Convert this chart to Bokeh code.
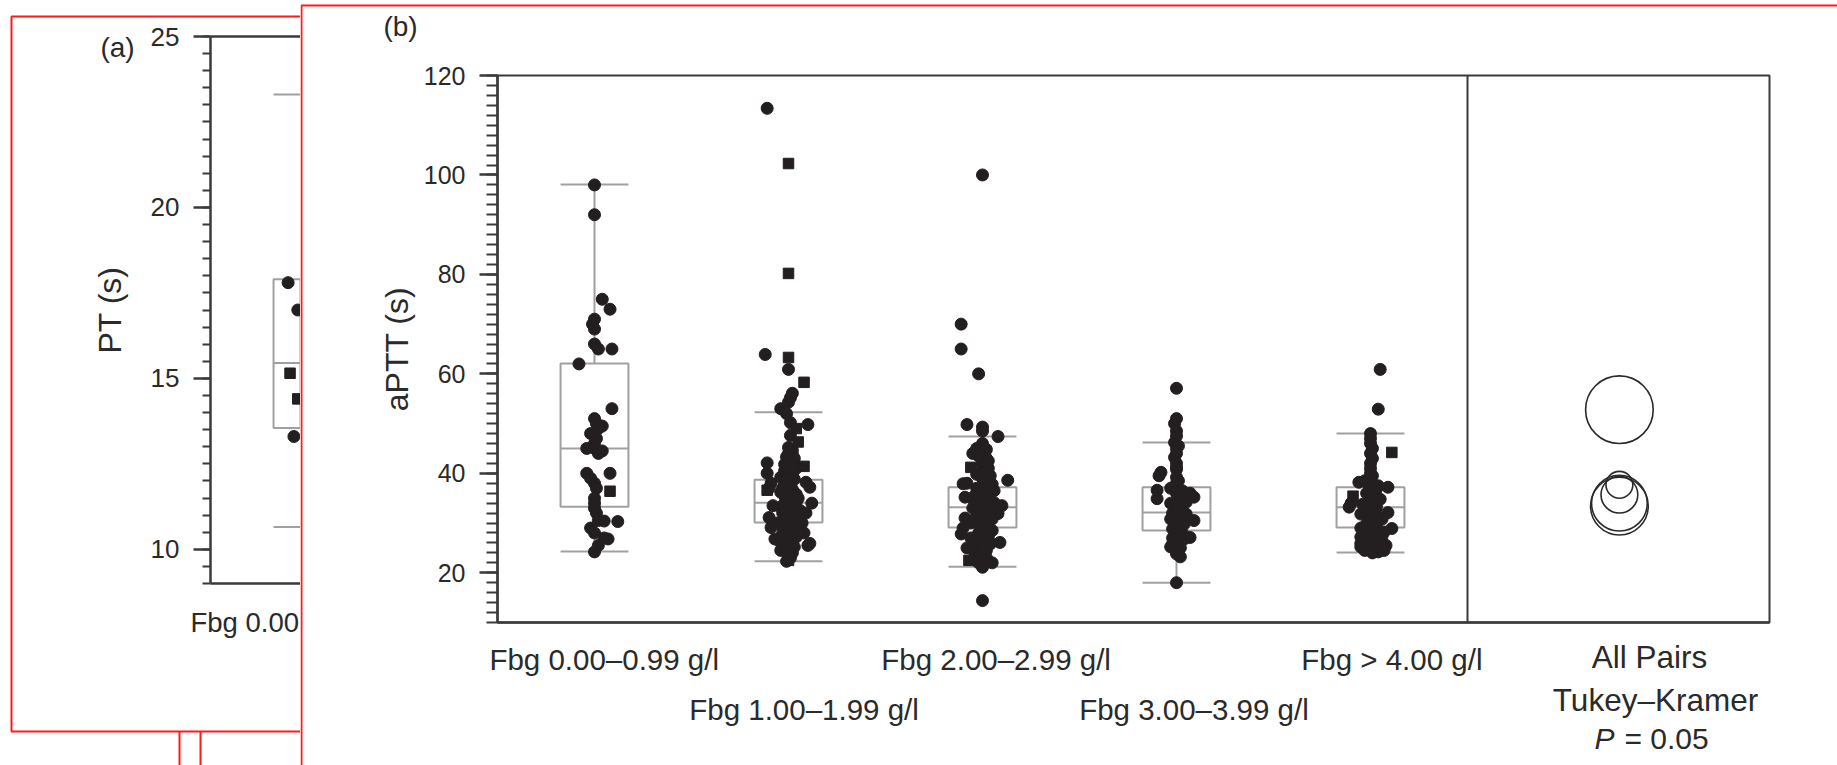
from bokeh.plotting import figure
from bokeh.layouts import row
from bokeh.models import FixedTicker, SingleIntervalTicker, LinearAxis, Range1d
from bokeh.embed import file_html
from bokeh.resources import INLINE
from bokeh.core.properties import value

FONT = "Liberation Sans"
INK = "#231f20"
AXIS = "#3a3a3a"
BOXC = "#a0a0a0"
RED = "#ff1a1a"
TXT = "#2a2a2a"

# ---------------- panel (a): PT ----------------
a_category_visible = "Fbg 0.00"          # the rest of the label is hidden behind panel (b)
a_whisker_low, a_q1, a_median, a_q3, a_whisker_high = 10.65, 13.55, 15.45, 17.9, 23.3
a_values = [17.8, 17.0, 15.15, 14.4, 13.3]
a_offsets = [-0.10, -0.05, -0.09, -0.05, -0.07]
a_markers = ["o", "o", "s", "s", "o"]

# ---------------- panel (b): aPTT ----------------
b_categories = ["Fbg 0.00–0.99 g/l", "Fbg 1.00–1.99 g/l", "Fbg 2.00–2.99 g/l",
                "Fbg 3.00–3.99 g/l", "Fbg > 4.00 g/l"]
b_whisker_low = [24.3, 22.3, 21.2, 18.0, 24.1]
b_q1 = [33.3, 30.1, 29.1, 28.5, 29.1]
b_median = [45.0, 34.1, 33.2, 32.1, 33.2]
b_q3 = [62.1, 38.7, 37.2, 37.2, 37.2]
b_whisker_high = [98.1, 52.3, 47.4, 46.2, 48.0]

g1_values = [98, 92, 75, 73, 71, 70, 69, 66, 65, 65, 62, 53, 51, 50, 49.5, 49, 48, 47, 46, 45,
             45, 44.5, 44, 40, 40, 39, 38, 37, 36.4, 35, 34, 33, 32, 30.5, 30.4, 30.3, 29, 28,
             27, 26.8, 25.5, 24.2]
g1_offsets = [0, 0, 0.04, 0.08, 0, -0.01, 0, 0, 0.02, 0.09, -0.08, 0.09, 0, 0.01, 0.04, 0.02,
              -0.02, 0.01, 0, -0.04, 0, 0.04, 0.02, 0.08, -0.04, -0.02, 0, 0.01, 0.08, 0, 0, 0,
              0.01, 0.02, 0.05, 0.12, -0.02, 0, 0.05, 0.07, 0.02, 0]
g1_markers = ["o"] * 28 + ["s"] + ["o"] * 13

g2_values = [113.4, 102.3, 80.2, 63.9, 63.3, 60.9, 58.3, 56.1, 55.2, 54.3, 53.0, 52.0, 50.2, 49.8,
             49.0, 47.6, 46.3, 45.2, 44.6, 43.8, 43.3, 42.5, 42.1, 41.5, 41.4, 41.0, 40.5, 40.0,
             40.0, 39.5, 39.2, 39.0, 38.5, 38.2, 38.0, 37.5, 37.2, 37.0, 36.8, 36.6, 36.5, 36.0,
             35.8, 35.5, 35.0, 34.8, 34.5, 34.0, 34.0, 33.8, 33.5, 33.0, 32.8, 32.5, 32.0, 31.8,
             31.5, 31.1, 31.0, 30.8, 30.5, 30.0, 30.0, 29.8, 29.5, 29.1, 29.0, 28.8, 28.5, 28.0,
             27.8, 27.5, 27.0, 26.5, 26.0, 25.9, 25.5, 25.0, 24.5, 24.0, 23.5, 23.0, 22.5, 22.3,
             44.0, 43.0, 41.8, 40.8, 39.8, 38.8, 37.8, 36.2, 35.2, 34.2, 33.2, 32.2, 31.3, 30.2,
             29.3, 28.2, 27.2, 26.2, 25.2, 24.2, 38.0, 37.0, 33.5, 32.0, 28.0, 26.8]
g2_offsets = [-0.11, 0, 0, -0.12, 0, 0, 0.08, 0.02, 0.01, 0, -0.04, -0.01, 0.01, 0.10,
              0.04, 0.01, 0.05, 0, 0.02, 0.02, -0.01, 0.01, -0.11, 0, 0.08, 0.04, -0.02, -0.11,
              0.02, 0.02, -0.04, 0, 0, 0.09, 0.01, 0, 0.11, -0.03, 0.02, -0.11, 0, 0.03,
              0.04, -0.02, 0.05, -0.01, 0, 0.12, -0.02, 0.02, 0.03, 0, -0.01, 0.06, -0.03, 0.03,
              0.01, -0.10, 0.04, -0.02, 0, 0.07, -0.06, 0.01, 0.02, -0.09, 0, 0.03, 0.05, -0.03,
              -0.01, 0.01, 0, -0.05, 0.02, 0.11, 0.10, 0, -0.04, 0.02, 0, 0.01, 0, -0.01,
              0, 0.03, -0.02, 0.01, -0.01, 0.03, -0.02, -0.04, 0.01, 0.04, -0.04, 0.01, 0.05, 0.02,
              -0.03, 0, 0.04, -0.02, 0.03, -0.01, -0.09, -0.10, -0.08, 0.09, 0.08, -0.07]
g2_markers = (["o", "s", "s", "o", "s", "o", "s", "o", "o", "o", "o", "o", "o", "o",
               "s", "o", "s", "o", "o", "o", "o", "o", "o", "o", "s", "o", "o", "o",
               "o", "o", "o", "s", "o", "o", "o", "o", "o", "o", "o", "s", "o", "o"]
              + ["o"] * 40 + ["s", "o"] + ["o"] * 26)

g3_values = [100, 70, 65, 60, 49.8, 49.3, 48.5, 47.4, 46, 45, 44.5, 44, 43, 42, 41.2, 41, 40,
             39.5, 39, 38.6, 38, 37.9, 37.5, 37, 36.5, 36, 35.5, 35.2, 35, 34.5, 34.1, 34, 33.5,
             33, 32.5, 32, 31.9, 31.5, 31, 30.5, 30, 29.5, 29, 28.5, 28, 27.8, 27.5, 27, 26.5,
             26.1, 26, 25.5, 25, 24.5, 24, 23.5, 22.5, 22, 21.1, 14.4,
             44.8, 43.5, 42.5, 41.5, 40.5, 39.8, 38.8, 37.8, 36.8, 35.8, 34.8, 33.8, 32.8, 31.8,
             30.8, 29.8, 28.8, 27.2, 26.8, 25.8, 24.8, 23.0, 22.0, 33.5, 31.0]
g3_offsets = [0, -0.11, -0.11, -0.02, -0.08, 0, 0, 0.08, 0, -0.03, 0, -0.05, 0.02, 0, -0.06,
              0.03, -0.01, 0.04, 0, 0.13, -0.08, -0.10, 0.02, -0.03, 0.06, 0, -0.04, -0.09, 0.03,
              0, 0.06, -0.02, 0.02, -0.05, 0, 0.04, 0.08, -0.03, 0, 0.03, -0.06, 0.01, -0.10,
              0.05, -0.02, -0.11, 0, -0.06, 0.03, 0.09, -0.03, 0, -0.08, 0.02, -0.04, 0, -0.07,
              -0.02, 0, 0,
              0.02, -0.02, 0.03, 0, 0.02, -0.03, 0.01, 0.05, -0.01, 0.02, -0.05, 0.04, 0, -0.02,
              0.05, -0.02, 0.02, 0.03, -0.01, 0.04, 0, 0.02, 0.05, 0.10, -0.09]
g3_markers = ["o"] * 14 + ["s"] + ["o"] * 41 + ["s"] + ["o"] * 3 + ["o"] * 25

g4_values = [57.1, 51, 50, 46.2, 45, 44, 43.2, 42, 41.2, 40.2, 39.5, 39.2, 38.5, 38, 37, 36.6,
             36, 35.2, 34.9, 34.5, 34, 33.5, 33, 32, 31.1, 30.5, 30, 29.5, 29, 28.5, 28, 27.1,
             27, 26.5, 26, 25.2, 25, 24.2, 18,
             48.5, 47.5, 45.5, 40.8, 36.5, 34.2, 32.5, 31.8, 30.8, 29.8, 28.8, 27.8, 26.8, 25.8,
             24.8, 23.8, 23.2, 36.0]
g4_offsets = [0, 0, -0.01, -0.01, 0, 0, -0.01, 0, 0, -0.08, -0.09, 0, 0.01, 0, -0.03, -0.10,
              0, 0.09, -0.10, 0.01, -0.03, 0, 0.02, -0.02, 0, 0.09, 0.03, -0.01, 0.02, 0, 0.03,
              0.07, -0.02, 0.01, 0, -0.03, 0.02, 0, 0,
              0, 0, 0.01, 0, 0.03, 0.05, 0, 0.05, -0.03, 0.04, -0.02, 0, 0.04, -0.02,
              0.01, 0, 0.02, 0.07]
g4_markers = ["o"] * 57

g5_values = [60.9, 52.9, 48, 47, 46, 45, 44.2, 44, 43, 42, 40, 39.5, 38.5, 38.2, 37.5, 37.2,
             36.5, 36, 35.4, 35, 34.5, 34, 33.5, 33.2, 33, 32.1, 32, 31.5, 31, 30.5, 30, 29.5,
             29, 28.9, 28.5, 28, 27.5, 27, 26.5, 26, 25.9, 25.5, 25, 24.5, 24.2, 24,
             41.0, 39.0, 37.8, 36.8, 35.8, 34.8, 33.8, 32.8, 31.8, 30.8, 29.8, 28.2, 27.2, 26.2,
             25.2, 24.8, 24.5]
g5_offsets = [0.05, 0.04, 0, 0, 0, 0.01, 0.11, 0, 0.01, 0, 0, 0.01, -0.03, -0.06, 0.04, 0.09,
              0, -0.02, -0.09, 0.02, 0, -0.10, 0.03, -0.11, 0, 0.09, -0.02, 0.01, 0.04, -0.01,
              0, 0.03, -0.05, 0.11, 0.02, -0.03, 0.06, 0, -0.04, 0.03, -0.05, 0.08, 0, -0.03,
              0.04, 0.01,
              0, 0, -0.01, 0.03, 0, 0.05, -0.04, 0.03, -0.05, 0.06, -0.02, 0.07, -0.05, 0.06,
              -0.05, 0.05, 0.07]
g5_markers = ["o"] * 6 + ["s"] + ["o"] * 11 + ["s"] + ["o"] * 27 + ["o"] * 17

comparison_centers = [52.8, 37.7, 35.7, 34.0, 33.4]
comparison_radii = [6.8, 2.7, 3.7, 5.6, 5.8]

# ---------------- layout (pixels) ----------------
W, H = 1837, 765
A_W = 300
B_W = W - A_W
PX_PER_CAT = 194.0
BOX_W = 0.35
COMP_X = 6.283
X_END_B = 0.5 + (1769 - 497) / PX_PER_CAT
LABEL_SHIFT = [0.05, 0.08, 0.07, 0.09, 0.11]   # category labels sit a little right of centre

# panel (a): frame left 210 px, y 25 at 36 px, y 9 at 583 px
A_PPY = (583 - 36) / 16.0
A_X0 = 0.5 - 210 / PX_PER_CAT
A_Y1 = 25 + 36 / A_PPY
def ax(px): return A_X0 + px / PX_PER_CAT
def ay(py): return A_Y1 - py / A_PPY

# panel (b): frame left 197 px (local), y 120 at 75 px, y 10 at 622 px
B_PPY = (622 - 75) / 110.0
B_X0 = 0.5 - 197 / PX_PER_CAT
B_Y1 = 120 + 75 / B_PPY
def bx(px): return B_X0 + px / PX_PER_CAT
def by(py): return B_Y1 - py / B_PPY


def style_y_axis(ax_, tick_font):
    ax_.axis_line_color = AXIS
    ax_.axis_line_width = 2.5
    ax_.major_tick_line_color = AXIS
    ax_.major_tick_line_width = 2.5
    ax_.minor_tick_line_color = AXIS
    ax_.minor_tick_line_width = 2
    ax_.major_tick_in = 0
    ax_.minor_tick_in = 0
    ax_.major_label_text_font = FONT
    ax_.major_label_text_font_size = tick_font
    ax_.major_label_text_color = TXT
    ax_.axis_label_text_font = FONT
    ax_.axis_label_text_font_style = "normal"
    ax_.axis_label_text_color = TXT
    ax_.axis_label_text_font_size = "32px"


def style_cat_axis(ax_, line=True):
    ax_.axis_line_color = AXIS if line else None
    ax_.axis_line_width = 2.5
    ax_.major_tick_out = 0
    ax_.major_tick_in = 0
    ax_.minor_tick_out = 0
    ax_.minor_tick_in = 0
    ax_.major_label_text_font = FONT
    ax_.major_label_text_font_size = "29.5px"
    ax_.major_label_text_color = TXT


def draw_box(p, xs, wlo, q1, med, q3, whi):
    half = BOX_W / 2
    kw = dict(line_color=BOXC, line_width=2)
    p.vbar(x=xs, width=BOX_W, bottom=q1, top=q3, fill_color=None, **kw)
    left = [x - half for x in xs]
    right = [x + half for x in xs]
    p.segment(x0=left, x1=right, y0=med, y1=med, **kw)
    p.segment(x0=xs, x1=xs, y0=q3, y1=whi, **kw)
    p.segment(x0=xs, x1=xs, y0=q1, y1=wlo, **kw)
    p.segment(x0=left, x1=right, y0=whi, y1=whi, **kw)
    p.segment(x0=left, x1=right, y0=wlo, y1=wlo, **kw)


def draw_points(p, xs, ys, mks):
    cx = [x for x, m in zip(xs, mks) if m == "o"]
    cy = [y for y, m in zip(ys, mks) if m == "o"]
    sx = [x for x, m in zip(xs, mks) if m == "s"]
    sy = [y for y, m in zip(ys, mks) if m == "s"]
    p.scatter(cx, cy, marker="circle", size=12, fill_color=INK, line_color=INK, line_width=1)
    p.scatter(sx, sy, marker="square", size=10.5, fill_color=INK, line_color=INK, line_width=1)


def add_text(p, x, y, txt, size, align="center", style="normal"):
    p.text(x=[x], y=[y], text=[txt], text_align=align, text_baseline="middle",
           text_font=value(FONT), text_font_size=size, text_color=TXT, text_font_style=style)


# ================= figure (a) =================
pa = figure(width=A_W, height=H, output_backend="svg", toolbar_location=None, tools="",
            x_range=Range1d(ax(0), ax(A_W)), y_range=Range1d(ay(H), ay(0)),
            x_axis_type=None, y_axis_type=None, min_border=0)
pa.outline_line_color = None
pa.background_fill_color = "white"
pa.border_fill_color = "white"
pa.grid.visible = False

ya = LinearAxis(ticker=SingleIntervalTicker(interval=5, num_minor_ticks=10), axis_label="PT (s)",
                fixed_location=0.5, bounds=(9, 25))
style_y_axis(ya, "26px")
ya.major_tick_out = 17
ya.minor_tick_out = 8
ya.major_label_standoff = 14
ya.axis_label_standoff = 20
pa.add_layout(ya, "left")

xa = LinearAxis(ticker=FixedTicker(ticks=[]), fixed_location=9, bounds=(0.5, ax(A_W + 5)))
style_cat_axis(xa)
pa.add_layout(xa, "below")
pa.segment(x0=[0.5], x1=[ax(A_W + 5)], y0=[25], y1=[25], line_color=AXIS, line_width=2.5)

draw_box(pa, [1], [a_whisker_low], [a_q1], [a_median], [a_q3], [a_whisker_high])
draw_points(pa, [1 + o for o in a_offsets], a_values, a_markers)

add_text(pa, ax(190), ay(622), a_category_visible, "27.5px", align="left")
add_text(pa, ax(117), ay(47), "(a)", "28px")

pa.quad(left=[ax(11)], right=[ax(A_W + 20)], top=[ay(16)], bottom=[ay(731)],
        fill_color=None, line_color=RED, line_width=2)
pa.segment(x0=[ax(179), ax(200)], x1=[ax(179), ax(200)], y0=[ay(731)] * 2, y1=[ay(H + 5)] * 2,
           line_color=RED, line_width=2)

# ================= figure (b) =================
pb = figure(width=B_W, height=H, output_backend="svg", toolbar_location=None, tools="",
            x_range=Range1d(bx(0), bx(B_W)), y_range=Range1d(by(H), by(0)),
            x_axis_type=None, y_axis_type=None, min_border=0)
pb.outline_line_color = None
pb.background_fill_color = "white"
pb.border_fill_color = "white"
pb.grid.visible = False

yb = LinearAxis(ticker=SingleIntervalTicker(interval=20, num_minor_ticks=10),
                axis_label="aPTT (s)", fixed_location=0.5, bounds=(10, 120))
style_y_axis(yb, "25px")
yb.major_tick_out = 18
yb.minor_tick_out = 11
yb.major_label_standoff = 14
yb.axis_label_standoff = 6
pb.add_layout(yb, "left")

cats = [1, 2, 3, 4, 5]
label_ticks = [c + s for c, s in zip(cats, LABEL_SHIFT)]
upper = {label_ticks[i]: b_categories[i] for i in (0, 2, 4)}
lower = {label_ticks[i]: b_categories[i] for i in (1, 3)}
xb1 = LinearAxis(ticker=FixedTicker(ticks=list(upper.keys())), major_label_overrides=upper,
                 fixed_location=10, bounds=(0.5, X_END_B))
style_cat_axis(xb1)
xb1.major_label_standoff = 20
pb.add_layout(xb1, "below")
xb2 = LinearAxis(ticker=FixedTicker(ticks=list(lower.keys())), major_label_overrides=lower,
                 fixed_location=10, bounds=(0.5, X_END_B))
style_cat_axis(xb2, line=False)
xb2.major_label_standoff = 70
pb.add_layout(xb2, "below")

# plot frame and the divider of the comparison-circle column
pb.quad(left=[0.5], right=[X_END_B], bottom=[10], top=[120], fill_color=None,
        line_color=AXIS, line_width=2)
pb.segment(x0=[5.5], x1=[5.5], y0=[10], y1=[120], line_color=AXIS, line_width=2)

draw_box(pb, cats, b_whisker_low, b_q1, b_median, b_q3, b_whisker_high)
groups = [(g1_values, g1_offsets, g1_markers), (g2_values, g2_offsets, g2_markers),
          (g3_values, g3_offsets, g3_markers), (g4_values, g4_offsets, g4_markers),
          (g5_values, g5_offsets, g5_markers)]
for c, (vals, offs, mks) in zip(cats, groups):
    draw_points(pb, [c + o for o in offs], vals, mks)

pb.circle(x=[COMP_X] * len(comparison_centers), y=comparison_centers, radius=comparison_radii,
          radius_dimension="y", fill_color=None, line_color=TXT, line_width=1.6)

add_text(pb, bx(1649 - 300), by(656), "All Pairs", "31.5px")
add_text(pb, bx(1655 - 300), by(699), "Tukey–Kramer", "31.5px")
add_text(pb, bx(1614 - 300), by(738), "P", "30px", align="right", style="italic")
add_text(pb, bx(1624 - 300), by(738), "= 0.05", "30px", align="left")
add_text(pb, bx(400 - 300), by(26), "(b)", "28px")

pb.quad(left=[bx(1)], right=[bx(B_W + 20)], top=[by(5)], bottom=[by(H + 20)],
        fill_color=None, line_color=RED, line_width=2)

layout = row(pa, pb, spacing=0)
open("out.html", "w").write(file_html(layout, INLINE))
